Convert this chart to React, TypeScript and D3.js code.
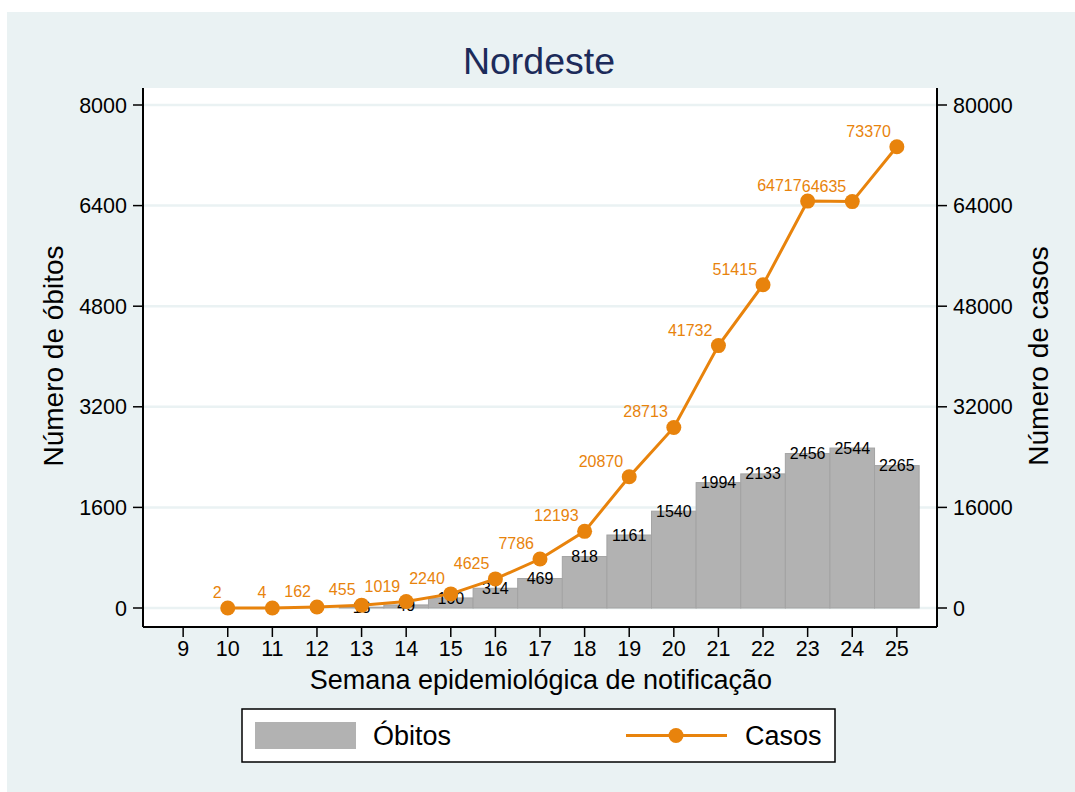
import React from "react";
import * as d3 from "d3";

const weeks = [9, 10, 11, 12, 13, 14, 15, 16, 17, 18, 19, 20, 21, 22, 23, 24, 25];
const obitoWeeks = [13, 14, 15, 16, 17, 18, 19, 20, 21, 22, 23, 24, 25];
const obitos = [13, 49, 160, 314, 469, 818, 1161, 1540, 1994, 2133, 2456, 2544, 2265];
const casoWeeks = [10, 11, 12, 13, 14, 15, 16, 17, 18, 19, 20, 21, 22, 23, 24, 25];
const casos = [2, 4, 162, 455, 1019, 2240, 4625, 7786, 12193, 20870, 28713, 41732, 51415, 64717, 64635, 73370];
const leftTicks = [0, 1600, 3200, 4800, 6400, 8000];
const rightTicks = [0, 16000, 32000, 48000, 64000, 80000];

const FONT = "'Liberation Sans', Arial, Helvetica, sans-serif";
const BG = "#eaf2f3";
const ORANGE = "#e8830c";
const BAR = "#b2b2b2";

export default function App() {
  const W = 1075, H = 792;
  const plot = { left: 143, right: 937, top: 88, bottom: 627 };
  const x = d3.scaleLinear().domain([8.1, 25.9]).range([plot.left, plot.right]);
  const yL = d3.scaleLinear().domain([0, 8000]).range([608, 105]);
  const yR = d3.scaleLinear().domain([0, 80000]).range([608, 105]);
  const step = x(1) - x(0);
  const line = d3.line<number>().x((_, i) => x(casoWeeks[i])).y((d) => yR(d));

  return (
    <svg width={W} height={H} style={{ position: "absolute", left: 0, top: 0 }} fontFamily={FONT}>
      <rect x={0} y={0} width={W} height={H} fill="#ffffff" />
      <rect x={7} y={12} width={W - 7} height={H - 12} fill={BG} />
      <rect x={plot.left} y={plot.top} width={plot.right - plot.left} height={plot.bottom - plot.top} fill="#ffffff" />
      {/* gridlines */}
      {leftTicks.map((t) => (
        <line key={"g" + t} x1={plot.left} x2={plot.right} y1={yL(t)} y2={yL(t)} stroke={BG} strokeWidth={2.5} />
      ))}
      {/* bars */}
      {obitos.map((v, i) => (
        <rect
          key={"b" + i}
          x={x(obitoWeeks[i]) - step / 2}
          y={yL(v)}
          width={step}
          height={yL(0) - yL(v)}
          fill={BAR}
          stroke="#a3a3a3"
          strokeWidth={1}
        />
      ))}
      {obitos.map((v, i) => (
        <text
          key={"bl" + i}
          x={x(obitoWeeks[i])}
          y={yL(v)}
          dy="0.35em"
          textAnchor="middle"
          fontSize={16}
          fill="#000"
        >
          {v}
        </text>
      ))}
      {/* line */}
      <path d={line(casos) || ""} fill="none" stroke={ORANGE} strokeWidth={3} />
      {casos.map((v, i) => (
        <circle key={"c" + i} cx={x(casoWeeks[i])} cy={yR(v)} r={7.5} fill={ORANGE} />
      ))}
      {casos.map((v, i) => (
        <text
          key={"cl" + i}
          x={x(casoWeeks[i]) - 6}
          y={yR(v) - 10}
          textAnchor="end"
          fontSize={16}
          fill={ORANGE}
        >
          {v}
        </text>
      ))}
      {/* axes */}
      <line x1={plot.left} x2={plot.left} y1={plot.top} y2={plot.bottom} stroke="#000" strokeWidth={2} />
      <line x1={plot.right} x2={plot.right} y1={plot.top} y2={plot.bottom} stroke="#000" strokeWidth={2} />
      <line x1={plot.left} x2={plot.right} y1={plot.bottom} y2={plot.bottom} stroke="#000" strokeWidth={2} />
      {leftTicks.map((t) => (
        <g key={"lt" + t}>
          <line x1={plot.left - 10} x2={plot.left} y1={yL(t)} y2={yL(t)} stroke="#000" strokeWidth={1.5} />
          <text x={plot.left - 16} y={yL(t)} dy="0.35em" textAnchor="end" fontSize={21.5} fill="#000">
            {t}
          </text>
        </g>
      ))}
      {rightTicks.map((t) => (
        <g key={"rt" + t}>
          <line x1={plot.right} x2={plot.right + 10} y1={yR(t)} y2={yR(t)} stroke="#000" strokeWidth={1.5} />
          <text x={plot.right + 16} y={yR(t)} dy="0.35em" textAnchor="start" fontSize={21.5} fill="#000">
            {t}
          </text>
        </g>
      ))}
      {weeks.map((w) => (
        <g key={"xt" + w}>
          <line x1={x(w)} x2={x(w)} y1={plot.bottom} y2={plot.bottom + 10} stroke="#000" strokeWidth={1.5} />
          <text x={x(w)} y={656} textAnchor="middle" fontSize={21.5} fill="#000">
            {w}
          </text>
        </g>
      ))}
      {/* titles */}
      <text x={539} y={74} textAnchor="middle" fontSize={37.5} fill="#1c2b5a">
        Nordeste
      </text>
      <text x={541} y={689} textAnchor="middle" fontSize={27} fill="#000">
        Semana epidemiológica de notificação
      </text>
      <text transform="translate(63,356) rotate(-90)" textAnchor="middle" fontSize={28} fill="#000">
        Número de óbitos
      </text>
      <text transform="translate(1048,356) rotate(-90)" textAnchor="middle" fontSize={28} fill="#000">
        Número de casos
      </text>
      {/* legend */}
      <rect x={242} y={709} width={593} height={53} fill="#ffffff" stroke="#000" strokeWidth={1.5} />
      <rect x={255} y={722} width={101} height={27} fill={BAR} />
      <text x={373} y={745} fontSize={27} fill="#000">
        Óbitos
      </text>
      <line x1={626} x2={727} y1={735.5} y2={735.5} stroke={ORANGE} strokeWidth={3} />
      <circle cx={676} cy={735.5} r={7.5} fill={ORANGE} />
      <text x={745} y={745} fontSize={27} fill="#000">
        Casos
      </text>
    </svg>
  );
}
